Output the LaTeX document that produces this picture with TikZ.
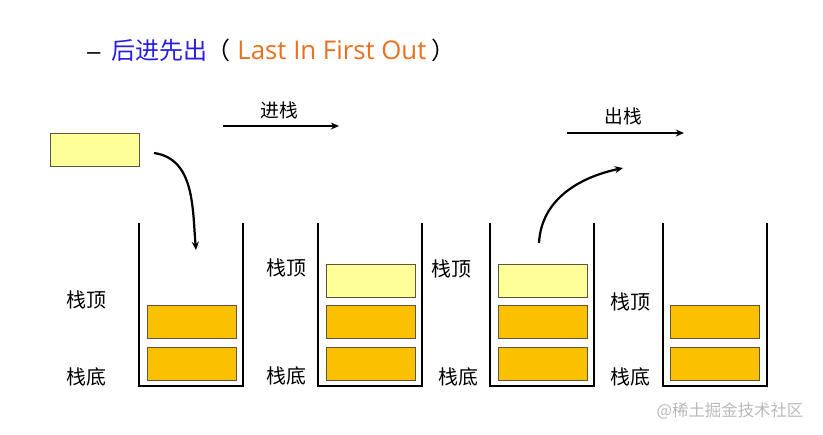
\documentclass[tikz,border=0pt]{standalone}
\usepackage{fontspec}
\setmainfont{Noto Sans CJK SC}
\newfontfamily\latinfont{Open Sans}
\newfontfamily\dashfont{Liberation Sans}
\usepackage{xcolor}
\usetikzlibrary{arrows.meta,positioning}

\definecolor{stackorange}{RGB}{251,192,0}
\definecolor{newyellow}{RGB}{255,255,153}
\definecolor{cellborder}{RGB}{95,85,60}
\definecolor{titleblue}{RGB}{40,30,220}
\definecolor{titleorange}{RGB}{232,112,30}
\definecolor{markgray}{RGB}{185,185,185}

\begin{document}
\begin{tikzpicture}[
  x=0.03cm, y=-0.03cm,
  cell/.style={rectangle, draw=cellborder, line width=0.8pt, minimum width=2.67cm, minimum height=1cm, inner sep=0pt},
  full/.style={cell, fill=stackorange},
  new/.style={cell, fill=newyellow},
  wall/.style={line width=2.4pt},
  lbl/.style={font=\fontsize{17}{17}\selectfont, inner sep=0pt},
  arrow/.style={-{Stealth[length=7pt, width=6pt]}, line width=1.9pt}
]
\useasboundingbox (0,0) rectangle (823,434);

% Title
\node[anchor=west, inner sep=0pt, font=\fontsize{20.5}{20.5}\selectfont] (title) at (87,50)
  {{\dashfont –}\hspace{0.45em}\textcolor{titleblue}{后进先出}\hspace{-0.05em}（\hspace{0.3em}\textcolor{titleorange}{\latinfont\fontsize{22}{22}\selectfont Last In First Out}\hspace{0.2em}）};

% Stack walls
\foreach \x in {139,318,490,663}
  \draw[wall] (\x,223) |- (\x+104,386) -- (\x+104,223);

% Incoming element
\node[new] (incoming) at (95,150) {};

% Stack 1
\node[full] (s1a) at (192,364) {};
\node[full] (s1b) at (192,322) {};
\node[lbl] (s1top) at (86,300) {栈顶};
\node[lbl] (s1bot) at (86,377) {栈底};

% Stack 2
\node[full] (s2a) at (371,364) {};
\node[full] (s2b) at (371,322) {};
\node[new] (s2c) at (371,281) {};
\node[lbl] (s2top) at (286,268) {栈顶};
\node[lbl] (s2bot) at (286,376) {栈底};

% Stack 3
\node[full] (s3a) at (543,364) {};
\node[full] (s3b) at (543,322) {};
\node[new] (s3c) at (543,281) {};
\node[lbl] (s3top) at (451,269) {栈顶};
\node[lbl] (s3bot) at (458,377) {栈底};

% Stack 4
\node[full] (s4a) at (715,364) {};
\node[full] (s4b) at (715,322) {};
\node[lbl] (s4top) at (630,302) {栈顶};
\node[lbl] (s4bot) at (630,377) {栈底};

% Push / pop captions
\node[lbl, font=\fontsize{16}{16}\selectfont] (pushlbl) at (279,110) {进栈};
\node[lbl, font=\fontsize{16}{16}\selectfont] (poplbl) at (623,116) {出栈};
\coordinate (pushfrom) at (223,126);
\coordinate (pushto) at (339,126);
\coordinate (popfrom) at (567,133);
\coordinate (popto) at (684,133);
\draw[arrow] (pushfrom) -- (pushto);
\draw[arrow] (popfrom) -- (popto);

% Curved arrows
\coordinate (dropin) at (196,250);
\coordinate (liftout) at (539,243);
\coordinate (liftend) at (623,168);
\draw[arrow] ([xshift=0.42cm, yshift=-0.09cm]incoming.east) to[out=-8, in=95] (dropin);
\draw[arrow] (liftout) to[out=87, in=192] (liftend);

% Watermark
\node[lbl, font=\fontsize{14}{14}\selectfont, text=markgray] (mark) at (730,411) {@稀土掘金技术社区};

\end{tikzpicture}
\end{document}
